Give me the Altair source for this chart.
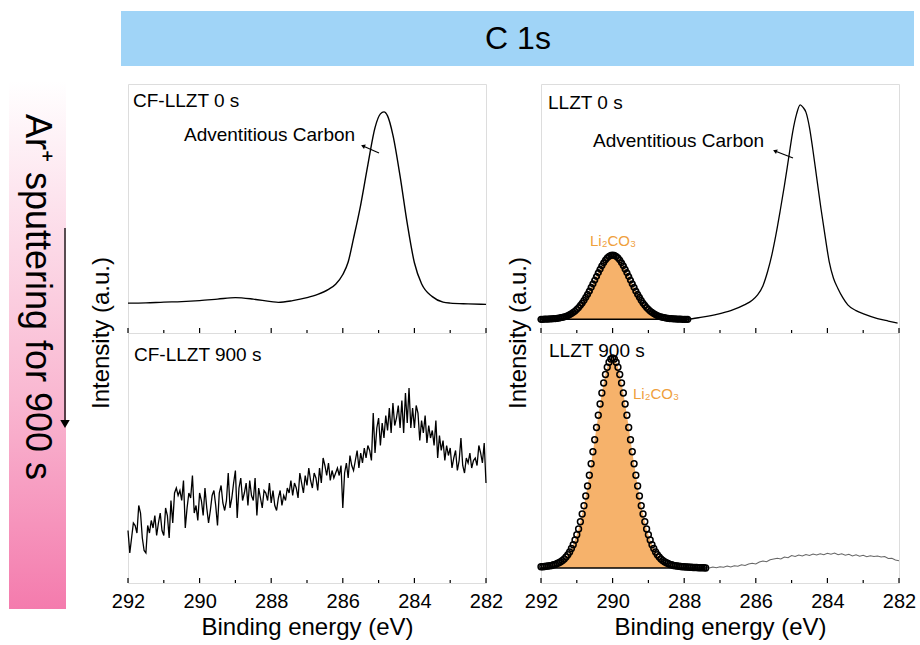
import altair as alt
import pandas as pd

FONT = "Liberation Sans"
ORANGE_FILL = "#F6B26B"
ORANGE_TEXT = "#EFA03C"
BANNER_BLUE = "#A0D4F7"

# axis ticks (binding energy, eV)
MAJOR = [292, 290, 288, 286, 284, 282]
MINOR = [291, 289, 287, 285, 283]

# CF-LLZT 0 s : C 1s survey (a.u.)
TL_E = [292.0, 291.5, 291.0, 290.5, 290.0, 289.5, 289.0, 288.5, 288.0, 287.8,
        287.4, 287.0, 286.7, 286.4, 286.2, 286.0, 285.85, 285.7, 285.5, 285.3,
        285.1, 284.95, 284.85, 284.75, 284.6, 284.4, 284.2, 284.0, 283.8, 283.5,
        283.2, 283.0, 282.5, 282.0]
TL_I = [12.0, 12.1, 12.4, 12.6, 13.0, 13.6, 14.2, 13.6, 12.6, 12.3,
        13.0, 14.2, 15.5, 17.5, 19.6, 23.5, 28.5, 38.0, 51.5, 67.5,
        82.5, 88.0, 88.8, 87.2, 79.5, 63.0, 44.0, 28.2, 19.8, 14.6,
        12.4, 12.0, 11.7, 11.5]

# CF-LLZT 900 s : 0.05 eV steps from 292 eV down to 282 eV
BL_START, BL_STEP = 292.0, 0.05
BL_I = [21, 12, 18, 24, 23, 20, 31, 28, 18, 13,
        12, 23, 20, 25, 22, 27, 19, 24, 28, 21,
        19, 30, 27, 18, 33, 24, 36, 38, 35, 37,
        33, 41, 22, 30, 36, 34, 43, 28, 31, 25,
        36, 33, 27, 38, 30, 24, 29, 35, 37, 31,
        23, 36, 39, 32, 29, 33, 44, 30, 34, 40,
        45, 26, 38, 42, 33, 36, 40, 31, 41, 35,
        33, 42, 27, 38, 34, 30, 37, 36, 33, 40,
        32, 37, 31, 29, 34, 37, 31, 35, 33, 38,
        36, 41, 35, 40, 38, 34, 44, 40, 36, 43,
        39, 46, 41, 38, 44, 42, 37, 46, 40, 50,
        47, 43, 48, 41, 45, 42, 44, 46, 43, 47,
        30, 44, 48, 42, 51, 47, 45, 49, 53, 46,
        52, 48, 54, 50, 55, 53, 49, 68, 52, 62,
        66, 55, 64, 58, 67, 61, 70, 60, 72, 63,
        66, 71, 62, 73, 60, 76, 64, 78, 62, 70,
        62, 71, 68, 57, 65, 60, 67, 56, 63, 58,
        61, 55, 65, 50, 59, 53, 57, 49, 55, 51,
        54, 46, 50, 53, 45, 49, 58, 47, 44, 50,
        48, 52, 46, 49, 50, 47, 55, 52, 48, 56,
        40]

# LLZT 0 s : measured curve (right of the fitted region)
TR_E = [288.0, 287.9, 287.5, 287.06, 286.7, 286.32, 286.1, 285.95, 285.8, 285.67,
        285.55, 285.44, 285.32, 285.2, 285.08, 284.97, 284.86, 284.76, 284.68, 284.6,
        284.5, 284.41, 284.3, 284.18, 284.06, 283.95, 283.83, 283.71, 283.57, 283.43,
        283.2, 282.97, 282.6, 282.3, 282.04]
TR_I = [5.6, 5.6, 6.4, 7.6, 9.0, 11.3, 13.2, 15.3, 19.0, 24.7,
        31.5, 39.3, 49.0, 59.3, 70.5, 80.7, 88.0, 91.6, 90.6, 88.7,
        82.5, 74.0, 62.5, 50.0, 38.5, 28.7, 22.0, 18.0, 14.2, 11.3,
        9.0, 7.6, 5.8, 4.8, 4.0]
# LLZT 0 s : Li2CO3 component, 0.05 eV steps from 292 eV
TR_FIT_START, TR_FIT_STEP, TR_BASE = 292.0, 0.05, 5.5
TR_FIT = [5.5, 5.5, 5.6, 5.6, 5.6, 5.7, 5.7, 5.8, 5.8, 5.9,
          6.0, 6.2, 6.3, 6.5, 6.7, 7.0, 7.4, 7.8, 8.3, 8.8,
          9.5, 10.2, 11.1, 12.0, 13.1, 14.3, 15.5, 16.8, 18.3, 19.7,
          21.2, 22.7, 24.2, 25.6, 27.0, 28.2, 29.3, 30.2, 30.8, 31.2,
          31.3,
          31.2, 30.8, 30.2, 29.3, 28.2, 27.0, 25.6, 24.2, 22.7, 21.2,
          19.7, 18.3, 16.8, 15.5, 14.3, 13.1, 12.0, 11.1, 10.2, 9.5,
          8.8, 8.3, 7.8, 7.4, 7.0, 6.7, 6.5, 6.3, 6.2, 6.0,
          5.9, 5.8, 5.8, 5.7, 5.7, 5.6, 5.6, 5.6, 5.5, 5.5,
          5.5, 5.5]

# LLZT 900 s : Li2CO3 component, 0.05 eV steps from 292 eV
BR_FIT_START, BR_FIT_STEP, BR_BASE = 292.0, 0.05, 6.0
BR_FIT = [6.5, 6.5, 6.6, 6.7, 6.8, 6.9, 7.0, 7.3, 7.4, 7.8,
          8.1, 8.5, 9.0, 9.6, 10.4, 11.3, 12.4, 13.8, 15.3, 17.2,
          19.3, 21.6, 24.5, 27.6, 30.9, 34.8, 38.8, 43.1, 47.7, 52.5,
          57.3, 62.2, 67.1, 71.6, 76.0, 80.0, 83.4, 86.3, 88.3, 89.6,
          90.0,
          89.6, 88.3, 86.3, 83.4, 80.0, 76.0, 71.6, 67.1, 62.2, 57.3,
          52.5, 47.7, 43.1, 38.8, 34.8, 30.9, 27.6, 24.5, 21.6, 19.3,
          17.2, 15.3, 13.8, 12.4, 11.3, 10.4, 9.6, 9.0, 8.5, 8.1,
          7.8, 7.4, 7.3, 7.0, 6.9, 6.8, 6.7, 6.6, 6.5, 6.5,
          6.4, 6.4, 6.3, 6.3, 6.2, 6.2, 6.2, 6.1, 6.1, 6.1,
          6.1, 6.0]
# LLZT 900 s : remaining measured signal, 0.1 eV steps from 287.4 eV
BR_START, BR_STEP = 287.4, 0.1
BR_I = [6.2, 6.0, 6.4, 6.1, 6.5, 6.3, 6.8, 6.4, 6.9, 6.7,
        7.3, 7.0, 7.6, 7.9, 7.6, 8.4, 8.8, 8.5, 9.3, 9.6,
        9.9, 9.6, 10.4, 10.1, 11.0, 10.6, 11.2, 10.8, 11.4, 11.0,
        11.6, 11.2, 11.7, 11.3, 11.9, 11.5, 12.0, 11.3, 11.7, 11.1,
        11.5, 10.8, 11.3, 10.7, 11.1, 10.5, 10.9, 10.6, 10.8, 10.4,
        10.6, 9.8, 9.9, 9.2, 8.9]

W, H_TOP, H_BOT = 358, 249, 250


def stepped(start, step, values):
    return pd.DataFrame({"E": [round(start - step * i, 3) for i in range(len(values))],
                         "I": values})


def xenc(show_axis):
    axis = None
    if show_axis:
        axis = alt.Axis(values=MAJOR, format="d", title="Binding energy (eV)",
                        labelFont=FONT, titleFont=FONT, labelFontSize=20,
                        titleFontSize=24, titleFontWeight="normal",
                        labelColor="black", titleColor="black", tickSize=0,
                        domain=False, grid=False, labelFlush=False,
                        labelOverlap=False, labelPadding=8, titlePadding=4)
    return alt.X("E:Q", scale=alt.Scale(domain=[292, 282], nice=False, zero=False),
                 axis=axis)


def yenc(field="I"):
    return alt.Y(f"{field}:Q", scale=alt.Scale(domain=[0, 100], nice=False, zero=False),
                 axis=None)


ONE = pd.DataFrame({"k": [0]})


def text(s, x, y, size=19, color="black", align="left", angle=0):
    return alt.Chart(ONE).mark_text(
        text=s, font=FONT, fontSize=size, color=color, align=align,
        baseline="middle", angle=angle
    ).encode(x=alt.value(x), y=alt.value(y))


def arrow(x1, y1, x2, y2, angle, size=22, width=1.2, shape="triangle-up"):
    shaft = alt.Chart(ONE).mark_rule(color="black", strokeWidth=width).encode(
        x=alt.value(x1), y=alt.value(y1), x2=alt.value(x2), y2=alt.value(y2))
    head = alt.Chart(ONE).mark_point(
        shape=shape, filled=True, color="black", size=size, angle=angle, opacity=1
    ).encode(x=alt.value(x2), y=alt.value(y2))
    return [shaft, head]


def ticks(h, show_axis):
    x = xenc(show_axis)
    major = alt.Chart(pd.DataFrame({"E": MAJOR})).mark_rule(
        color="black", strokeWidth=1.2).encode(x=x, y=alt.value(h), y2=alt.value(h - 5))
    minor = alt.Chart(pd.DataFrame({"E": MINOR})).mark_rule(
        color="black", strokeWidth=1.2).encode(x=x, y=alt.value(h), y2=alt.value(h - 3))
    return [major, minor]


def fit_layers(df, base, size, sw, show_axis):
    df = df.assign(B=base)
    x = xenc(show_axis)
    area = alt.Chart(df).mark_area(color=ORANGE_FILL, opacity=1).encode(
        x=x, y=yenc(), y2=alt.Y2("B:Q"))
    baseline = alt.Chart(df).mark_line(color="black", strokeWidth=1.6).encode(
        x=x, y=yenc("B"))
    dots = alt.Chart(df).mark_point(shape="circle", filled=False, color="black",
                                    strokeWidth=sw, size=size, opacity=1).encode(x=x, y=yenc())
    return [area, baseline, dots]


# ---------------- top left: CF-LLZT 0 s (also carries page decorations) -------------
grad = alt.Gradient(
    gradient="linear", x1=0, x2=0, y1=0, y2=1,
    stops=[alt.GradientStop(color="#FFFFFF", offset=0),
           alt.GradientStop(color="#FDE4EE", offset=0.22),
           alt.GradientStop(color="#F9B7D1", offset=0.6),
           alt.GradientStop(color="#F47BAD", offset=1)])
side_bar = alt.Chart(ONE).mark_rect(fill=grad).encode(
    x=alt.value(-119), x2=alt.value(-62), y=alt.value(-3), y2=alt.value(525))
banner = alt.Chart(ONE).mark_rect(color=BANNER_BLUE).encode(
    x=alt.value(-7), x2=alt.value(786), y=alt.value(-73), y2=alt.value(-18))

tl_line = alt.Chart(pd.DataFrame({"E": TL_E, "I": TL_I})).mark_line(
    color="black", strokeWidth=1.4, interpolate="monotone").encode(x=xenc(False), y=yenc())

TL = alt.layer(
    side_bar, banner,
    text("C 1s", 390, -45, size=32, align="center"),
    text("Ar\u207a sputtering for 900 s", -91, 213, size=36, align="center", angle=90),
    *arrow(-63, 144, -63, 340, 0, size=90, width=1.3, shape="triangle-down"),
    text("Intensity (a.u.)", -26, 249, size=24, align="center", angle=270),
    *ticks(H_TOP, False),
    tl_line,
    text("CF-LLZT 0 s", 5, 17),
    text("Adventitious Carbon", 56, 51),
    *arrow(251, 69, 235, 62, 292),
).properties(width=W, height=H_TOP)

# ---------------- bottom left: CF-LLZT 900 s ----------------
bl_line = alt.Chart(stepped(BL_START, BL_STEP, BL_I)).mark_line(
    color="black", strokeWidth=1.3).encode(x=xenc(True), y=yenc())
BL = alt.layer(
    *ticks(H_BOT, True),
    bl_line,
    text("CF-LLZT 900 s", 6, 22),
).properties(width=W, height=H_BOT)

# ---------------- top right: LLZT 0 s ----------------
tr_line = alt.Chart(pd.DataFrame({"E": TR_E, "I": TR_I})).mark_line(
    color="black", strokeWidth=1.3, interpolate="monotone").encode(x=xenc(False), y=yenc())
TR = alt.layer(
    text("Intensity (a.u.)", -22, 249, size=24, align="center", angle=270),
    *ticks(H_TOP, False),
    tr_line,
    *fit_layers(stepped(TR_FIT_START, TR_FIT_STEP, TR_FIT), TR_BASE, 30, 1.8, False),
    text("LLZT 0 s", 7, 19),
    text("Adventitious Carbon", 52, 57),
    *arrow(252, 74, 234, 67, 292),
    text("Li\u2082CO\u2083", 72, 157, size=15, color=ORANGE_TEXT, align="center"),
).properties(width=W, height=H_TOP)

# ---------------- bottom right: LLZT 900 s ----------------
br_line = alt.Chart(stepped(BR_START, BR_STEP, BR_I)).mark_line(
    color="#666666", strokeWidth=1.1).encode(x=xenc(True), y=yenc())
BR = alt.layer(
    *ticks(H_BOT, True),
    br_line,
    *fit_layers(stepped(BR_FIT_START, BR_FIT_STEP, BR_FIT), BR_BASE, 34, 1.5, True),
    text("LLZT 900 s", 8, 18),
    text("Li\u2082CO\u2083", 92, 61, size=15, color=ORANGE_TEXT),
).properties(width=W, height=H_BOT)

chart = alt.concat(
    TL, TR, BL, BR, columns=2, spacing={"row": 0, "column": 55}, bounds="flush"
).properties(
    padding={"left": 8, "top": 10, "right": 0, "bottom": 0}
).configure_view(
    stroke="#1a1a1a", strokeWidth=1.4
).configure(background="white")

chart.save("out.html", embed_options={"renderer": "svg", "actions": False})
